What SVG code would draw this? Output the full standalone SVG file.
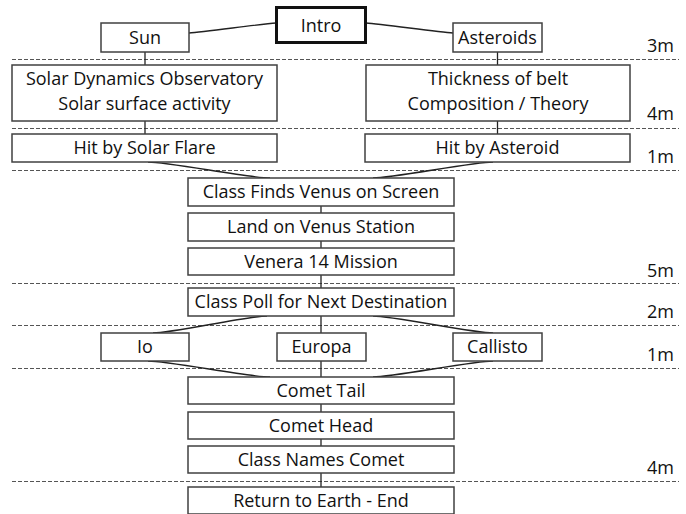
<svg xmlns="http://www.w3.org/2000/svg" width="686" height="514" viewBox="0 0 686 514">
<style>
.box{fill:#fff;stroke:#404040;stroke-width:1.5}
.thick{fill:#fff;stroke:#111;stroke-width:3}
.t{font-family:"Open Sans","Liberation Sans",sans-serif;font-size:18px;fill:#111;text-anchor:middle}
.m{font-family:"Open Sans","Liberation Sans",sans-serif;font-size:18px;fill:#111;text-anchor:end}
.dash{stroke:#555;stroke-width:1;stroke-dasharray:4 2;fill:none}
.c{stroke:#222;stroke-width:1.3;fill:none}
</style>
<rect width="686" height="514" fill="#fff"/>
<g id="dividers">
<line class="dash" x1="12" y1="59.5" x2="679" y2="59.5"/>
<line class="dash" x1="12" y1="128.5" x2="679" y2="128.5"/>
<line class="dash" x1="12" y1="170.5" x2="679" y2="170.5"/>
<line class="dash" x1="12" y1="283.5" x2="679" y2="283.5"/>
<line class="dash" x1="12" y1="325.5" x2="679" y2="325.5"/>
<line class="dash" x1="12" y1="368.5" x2="679" y2="368.5"/>
<line class="dash" x1="12" y1="481.5" x2="679" y2="481.5"/>
</g>
<g id="durations">
<text class="m" x="674" y="52">3m</text>
<text class="m" x="674" y="120">4m</text>
<text class="m" x="674" y="163">1m</text>
<text class="m" x="674" y="277">5m</text>
<text class="m" x="674" y="318">2m</text>
<text class="m" x="674" y="361">1m</text>
<text class="m" x="674" y="474">4m</text>
</g>
<g id="connectors">
<path class="c" d="M189,33 C205,32 260,24 276,23"/>
<path class="c" d="M366,23 C382,24 437,32 453,33"/>
<line class="c" x1="145" y1="52" x2="145" y2="65"/>
<line class="c" x1="145" y1="121" x2="145" y2="134"/>
<line class="c" x1="497.5" y1="52" x2="497.5" y2="65"/>
<line class="c" x1="497.5" y1="121" x2="497.5" y2="134"/>
<path class="c" d="M148,162 C168,162 250,178 270,178"/>
<path class="c" d="M493,162 C473,162 393,178 373,178"/>
<line class="c" x1="321" y1="206" x2="321" y2="213"/>
<line class="c" x1="321" y1="241" x2="321" y2="248"/>
<line class="c" x1="321" y1="275" x2="321" y2="288"/>
<path class="c" d="M267,316 C247,316 173,333 153,333"/>
<path class="c" d="M373,316 C393,316 473,333 493,333"/>
<line class="c" x1="321" y1="316" x2="321" y2="333"/>
<path class="c" d="M148,361 C168,361 250,377 270,377"/>
<path class="c" d="M493,361 C473,361 393,377 373,377"/>
<line class="c" x1="321" y1="361" x2="321" y2="377"/>
<line class="c" x1="321" y1="404" x2="321" y2="412"/>
<line class="c" x1="321" y1="439" x2="321" y2="446"/>
<line class="c" x1="321" y1="473" x2="321" y2="487"/>
</g>
<g id="intro"><rect class="thick" x="276.5" y="7.5" width="89" height="35"/><text class="t" x="321" y="32">Intro</text></g>
<g id="sun"><rect class="box" x="101" y="23" width="88" height="29"/><text class="t" x="145" y="44">Sun</text></g>
<g id="asteroids"><rect class="box" x="453" y="23" width="89" height="29"/><text class="t" x="497.5" y="44">Asteroids</text></g>
<g id="sdo"><rect class="box" x="12" y="65" width="265" height="56"/><text class="t" x="144.5" y="85">Solar Dynamics Observatory</text><text class="t" x="144.5" y="110">Solar surface activity</text></g>
<g id="belt"><rect class="box" x="366" y="65" width="264" height="56"/><text class="t" x="498" y="85">Thickness of belt</text><text class="t" x="498" y="110">Composition / Theory</text></g>
<g id="flare"><rect class="box" x="12" y="134" width="265" height="28"/><text class="t" x="144.5" y="154">Hit by Solar Flare</text></g>
<g id="hitasteroid"><rect class="box" x="365" y="134" width="265" height="28"/><text class="t" x="497.5" y="154">Hit by Asteroid</text></g>
<g id="findvenus"><rect class="box" x="188" y="178" width="266" height="28"/><text class="t" x="321" y="198">Class Finds Venus on Screen</text></g>
<g id="land"><rect class="box" x="188" y="213" width="266" height="28"/><text class="t" x="321" y="233">Land on Venus Station</text></g>
<g id="venera"><rect class="box" x="188" y="248" width="266" height="27"/><text class="t" x="321" y="268">Venera 14 Mission</text></g>
<g id="poll"><rect class="box" x="188" y="288" width="266" height="28"/><text class="t" x="321" y="308">Class Poll for Next Destination</text></g>
<g id="io"><rect class="box" x="101" y="333" width="88" height="28"/><text class="t" x="145" y="353">Io</text></g>
<g id="europa"><rect class="box" x="277" y="333" width="89" height="28"/><text class="t" x="321.5" y="353">Europa</text></g>
<g id="callisto"><rect class="box" x="453" y="333" width="89" height="28"/><text class="t" x="497.5" y="353">Callisto</text></g>
<g id="tail"><rect class="box" x="188" y="377" width="266" height="27"/><text class="t" x="321" y="397">Comet Tail</text></g>
<g id="head"><rect class="box" x="188" y="412" width="266" height="27"/><text class="t" x="321" y="432">Comet Head</text></g>
<g id="names"><rect class="box" x="188" y="446" width="266" height="27"/><text class="t" x="321" y="466">Class Names Comet</text></g>
<g id="return"><rect class="box" x="188" y="487" width="266" height="27"/><text class="t" x="321" y="507">Return to Earth - End</text></g>
</svg>
